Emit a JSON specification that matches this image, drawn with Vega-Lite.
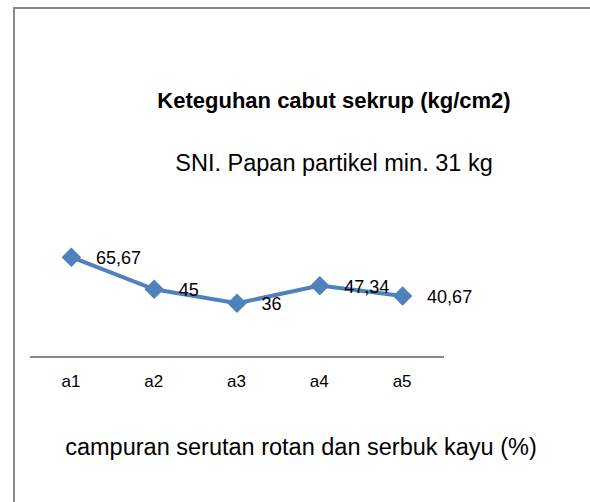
{
  "$schema": "https://vega.github.io/schema/vega-lite/v6.json",
  "width": 578,
  "height": 496,
  "autosize": {"type": "none"},
  "padding": {"left": 14, "top": 8, "right": 0, "bottom": 0},
  "background": "white",
  "title": {
    "text": "Keteguhan cabut sekrup (kg/cm2)",
    "subtitle": "SNI. Papan partikel min. 31 kg",
    "anchor": "middle",
    "frame": "group",
    "dx": 31,
    "offset": -168,
    "baseline": "top",
    "fontSize": 22,
    "fontWeight": "bold",
    "font": "Liberation Sans",
    "color": "black",
    "subtitleFontSize": 23.5,
    "subtitleFont": "Liberation Sans",
    "subtitleColor": "black",
    "subtitlePadding": 39
  },
  "data": {
    "values": [
      {"sample": "a1", "value": 65.67},
      {"sample": "a2", "value": 45},
      {"sample": "a3", "value": 36},
      {"sample": "a4", "value": 47.34},
      {"sample": "a5", "value": 40.67}
    ]
  },
  "encoding": {
    "x": {
      "field": "sample",
      "type": "nominal",
      "sort": null,
      "scale": {"type": "band", "range": [16, 430], "paddingInner": 0, "paddingOuter": 0},
      "axis": {
        "orient": "bottom",
        "offset": -147,
        "translate": 0,
        "domainColor": "#898989",
        "domainWidth": 2,
        "ticks": false,
        "tickSize": 0,
        "grid": false,
        "labelAngle": 0,
        "labelFontSize": 17,
        "labelColor": "black",
        "labelBaseline": "alphabetic",
        "labelPadding": 29.5,
        "labelFont": "Liberation Sans",
        "title": "campuran serutan rotan dan serbuk kayu (%)",
        "titleFontSize": 23.5,
        "titleFontWeight": "normal",
        "titleColor": "black",
        "titleFont": "Liberation Sans",
        "titleX": 287,
        "titleY": 98,
        "titleAlign": "center",
        "titleAnchor": null,
        "titleBaseline": "alphabetic"
      }
    },
    "y": {
      "field": "value",
      "type": "quantitative",
      "scale": {"domain": [0, 226.5], "range": [351, 0], "nice": false, "zero": true},
      "axis": null
    }
  },
  "layer": [
    {"mark": {"type": "line", "color": "#4F81BD", "strokeWidth": 4}},
    {"mark": {"type": "point", "shape": "diamond", "filled": true, "size": 380, "color": "#4F81BD", "opacity": 1}},
    {
      "mark": {"type": "text", "align": "left", "baseline": "alphabetic", "dx": 24.5, "dy": 7, "fontSize": 18, "font": "Liberation Sans", "color": "black"},
      "encoding": {"text": {"field": "value", "type": "quantitative", "format": ".2~f"}}
    }
  ],
  "config": {
    "locale": {"number": {"decimal": ",", "thousands": ".", "grouping": [3], "currency": ["", ""]}},
    "view": {"stroke": "#898989", "strokeWidth": 2},
    "font": "Liberation Sans"
  }
}
